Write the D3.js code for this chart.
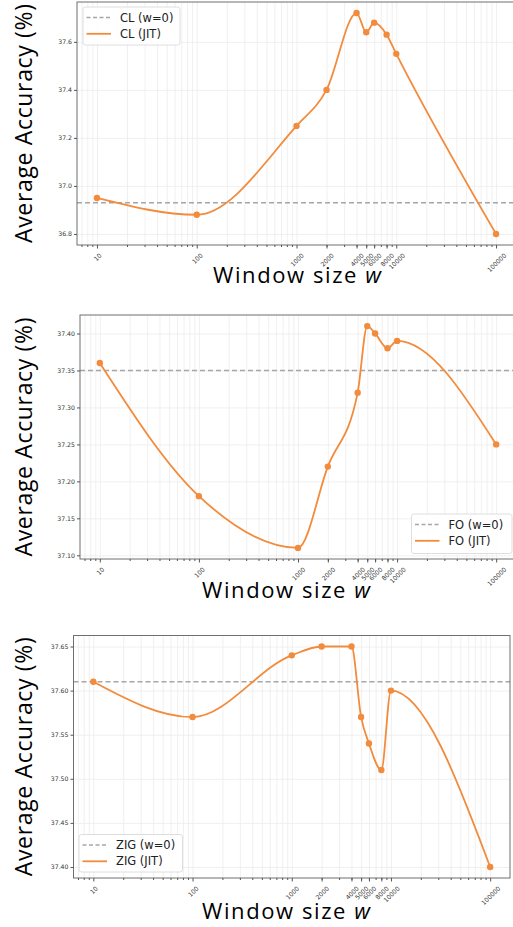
<!DOCTYPE html>
<html>
<head>
<meta charset="utf-8">
<script src="https://cdn.jsdelivr.net/npm/d3@7"></script>
<style>
  body { margin: 0; background: #fff; }
  svg { display: block; }
</style>
</head>
<body>
<script>
// window sizes (x axis, log scale) and their tick labels
var windowSizes = [10, 100, 1000, 2000, 4000, 5000, 6000, 8000, 10000, 100000]
var xTickLabels = ["10", "100", "1000", "2000", "4000", "5000", "6000", "8000", "10000", "100000"]

// CL
var clJit = [36.95, 36.88, 37.25, 37.40, 37.72, 37.64, 37.68, 37.63, 37.55, 36.80]
var clBase = 36.93
var clTicks = [36.8, 37.0, 37.2, 37.4, 37.6]

// FO
var foJit = [37.36, 37.18, 37.11, 37.22, 37.32, 37.41, 37.40, 37.38, 37.39, 37.25]
var foBase = 37.35
var foTicks = [37.10, 37.15, 37.20, 37.25, 37.30, 37.35, 37.40]

// ZIG
var zigJit = [37.61, 37.57, 37.64, 37.65, 37.65, 37.57, 37.54, 37.51, 37.60, 37.40]
var zigBase = 37.61
var zigTicks = [37.40, 37.45, 37.50, 37.55, 37.60, 37.65]

var width = 513
var height = 927
var orange = "#f28b3c"
var tickFont = "DejaVu Sans"
var titleFont = "Open Sans"

var svg = d3.select("body").append("svg")
    .attr("width", width)
    .attr("height", height)

// panel boxes (pixels)
var panels = [
  { name: "CL", jit: clJit, base: clBase, ticks: clTicks, fmt: ".1f",
    left: 77, top: 2, right: 516, bottom: 245,
    xLabelX: 297, xLabelY: 283,
    legend: { x: 83, y: 7, w: 97, h: 38 } },
  { name: "FO", jit: foJit, base: foBase, ticks: foTicks, fmt: ".2f",
    left: 80, top: 315, right: 516, bottom: 559,
    xLabelX: 286, xLabelY: 598,
    legend: { x: 411.5, y: 514, w: 100.5, h: 39.5 } },
  { name: "ZIG", jit: zigJit, base: zigBase, ticks: zigTicks, fmt: ".2f",
    left: 73.5, top: 635.5, right: 510, bottom: 878,
    xLabelX: 286, xLabelY: 919,
    legend: { x: 79, y: 834.5, w: 103.5, h: 37.5 } }
]

// minor log ticks 2..9 x 10^k
var minorTicks = []
for (var k = 0; k <= 5; k++) {
  for (var m = 2; m <= 9; m++) minorTicks.push(m * Math.pow(10, k))
}

panels.forEach(function (p, i) {
  var g = svg.append("g")
  var pw = p.right - p.left
  var ph = p.bottom - p.top

  var x = d3.scaleLog()
      .domain([Math.pow(10, 0.8), Math.pow(10, 5.2)])
      .range([p.left, p.right])
  var minorIn = minorTicks.filter(function (t) { return t >= x.domain()[0] && t <= x.domain()[1] })

  // y domain like matplotlib autoscale: 5% margins
  var ext = d3.extent(p.jit.concat([p.base]))
  var pad = (ext[1] - ext[0]) * 0.05
  var y = d3.scaleLinear()
      .domain([ext[0] - pad, ext[1] + pad])
      .range([p.bottom, p.top])

  // grid
  g.append("g")
      .attr("transform", "translate(0," + p.bottom + ")")
      .call(d3.axisBottom(x).tickValues(minorIn.concat([10, 100, 1000, 10000, 100000])).tickSize(-ph).tickFormat(""))
      .call(function (s) {
        s.select(".domain").remove()
        s.selectAll("line").attr("stroke", "#ececec").attr("stroke-width", 0.8)
      })
  g.append("g")
      .attr("transform", "translate(" + p.left + ",0)")
      .call(d3.axisLeft(y).tickValues(p.ticks).tickSize(-pw).tickFormat(""))
      .call(function (s) {
        s.select(".domain").remove()
        s.selectAll("line").attr("stroke", "#ececec").attr("stroke-width", 0.8)
      })

  // clip for the lines
  svg.append("clipPath").attr("id", "clip" + i)
    .append("rect")
      .attr("x", p.left).attr("y", p.top)
      .attr("width", pw).attr("height", ph)

  // baseline w=0
  g.append("line")
      .attr("x1", p.left).attr("x2", p.right)
      .attr("y1", y(p.base)).attr("y2", y(p.base))
      .attr("stroke", "#a6a6a6")
      .attr("stroke-width", 1.4)
      .attr("stroke-dasharray", "5,3")

  // JIT curve (monotone cubic in log-x)
  var pts = windowSizes.map(function (w, j) { return [w, p.jit[j]] })
  var line = d3.line()
      .x(function (d) { return x(d[0]) })
      .y(function (d) { return y(d[1]) })
      .curve(d3.curveMonotoneX)
  g.append("path")
      .datum(pts)
      .attr("clip-path", "url(#clip" + i + ")")
      .attr("d", line)
      .attr("fill", "none")
      .attr("stroke", orange)
      .attr("stroke-width", 1.8)

  g.selectAll("circle.pt")
      .data(pts)
      .enter()
      .append("circle")
      .attr("class", "pt")
      .attr("cx", function (d) { return x(d[0]) })
      .attr("cy", function (d) { return y(d[1]) })
      .attr("r", 3.2)
      .attr("fill", orange)

  // spines
  g.append("rect")
      .attr("x", p.left).attr("y", p.top)
      .attr("width", pw).attr("height", ph)
      .attr("fill", "none")
      .attr("stroke", "#6f6f6f")
      .attr("stroke-width", 1)

  // y axis
  g.append("g")
      .attr("transform", "translate(" + p.left + ",0)")
      .call(d3.axisLeft(y).tickValues(p.ticks).tickSize(3).tickPadding(2).tickFormat(d3.format(p.fmt)))
      .call(function (s) {
        s.select(".domain").remove()
        s.selectAll("line").attr("stroke", "#555")
        s.selectAll("text").attr("font-family", tickFont).attr("font-size", 6.2).attr("fill", "#333")
      })

  // x minor ticks
  g.append("g")
      .attr("transform", "translate(0," + p.bottom + ")")
      .call(d3.axisBottom(x).tickValues(minorIn).tickSize(2).tickFormat(""))
      .call(function (s) {
        s.select(".domain").remove()
        s.selectAll("line").attr("stroke", "#555")
      })

  // x major ticks at the tested window sizes, labels rotated 45
  var xa = g.append("g")
      .attr("transform", "translate(0," + p.bottom + ")")
      .call(d3.axisBottom(x).tickValues(windowSizes).tickSize(3.5)
        .tickFormat(function (d, j) { return xTickLabels[j] }))
  xa.select(".domain").remove()
  xa.selectAll("line").attr("stroke", "#555")
  xa.selectAll("text")
      .attr("font-family", tickFont)
      .attr("font-size", 6.2)
      .attr("fill", "#333")
      .attr("text-anchor", "middle")
      .attr("dominant-baseline", "central")
      .attr("dy", null)
      .attr("y", null)
      .attr("transform", function () {
        var len = this.getComputedTextLength()
        var off = 7 + (len + 6) * 0.7071 / 2
        return "translate(0," + off + ") rotate(-45)"
      })

  // axis titles
  g.append("text")
      .attr("transform", "translate(32," + (p.top + ph / 2) + ") rotate(-90)")
      .attr("text-anchor", "middle")
      .attr("font-family", titleFont)
      .attr("font-size", 23)
      .attr("textLength", 239)
      .attr("lengthAdjust", "spacing")
      .attr("fill", "#000")
      .text("Average Accuracy (%)")

  var xt = g.append("text")
      .attr("x", p.xLabelX)
      .attr("y", p.xLabelY)
      .attr("text-anchor", "middle")
      .attr("font-family", titleFont)
      .attr("font-size", 22)
      .attr("textLength", 168)
      .attr("lengthAdjust", "spacing")
      .attr("fill", "#000")
  xt.append("tspan").text("Window size ")
  xt.append("tspan").attr("font-style", "italic").text("w")

  // legend
  var L = p.legend
  var lg = g.append("g")
  lg.append("rect")
      .attr("x", L.x).attr("y", L.y)
      .attr("width", L.w).attr("height", L.h)
      .attr("rx", 2.5)
      .attr("fill", "#fff")
      .attr("fill-opacity", 0.85)
      .attr("stroke", "#d6d6d6")
      .attr("stroke-width", 0.8)
  var items = [
    { label: p.name + " (w=0)", color: "#a6a6a6", dash: "4,2.5" },
    { label: p.name + " (JIT)", color: orange, dash: null }
  ]
  items.forEach(function (it, j) {
    var yy = L.y + 10.5 + j * 16.3
    lg.append("line")
        .attr("x1", L.x + 3.5).attr("x2", L.x + 28)
        .attr("y1", yy).attr("y2", yy)
        .attr("stroke", it.color)
        .attr("stroke-width", it.dash ? 1.4 : 1.8)
        .attr("stroke-dasharray", it.dash)
    lg.append("text")
        .attr("x", L.x + 37)
        .attr("y", yy)
        .attr("dy", "0.36em")
        .attr("font-family", tickFont)
        .attr("font-size", 11.5)
        .attr("fill", "#222")
        .text(it.label)
  })
})
</script>
</body>
</html>
